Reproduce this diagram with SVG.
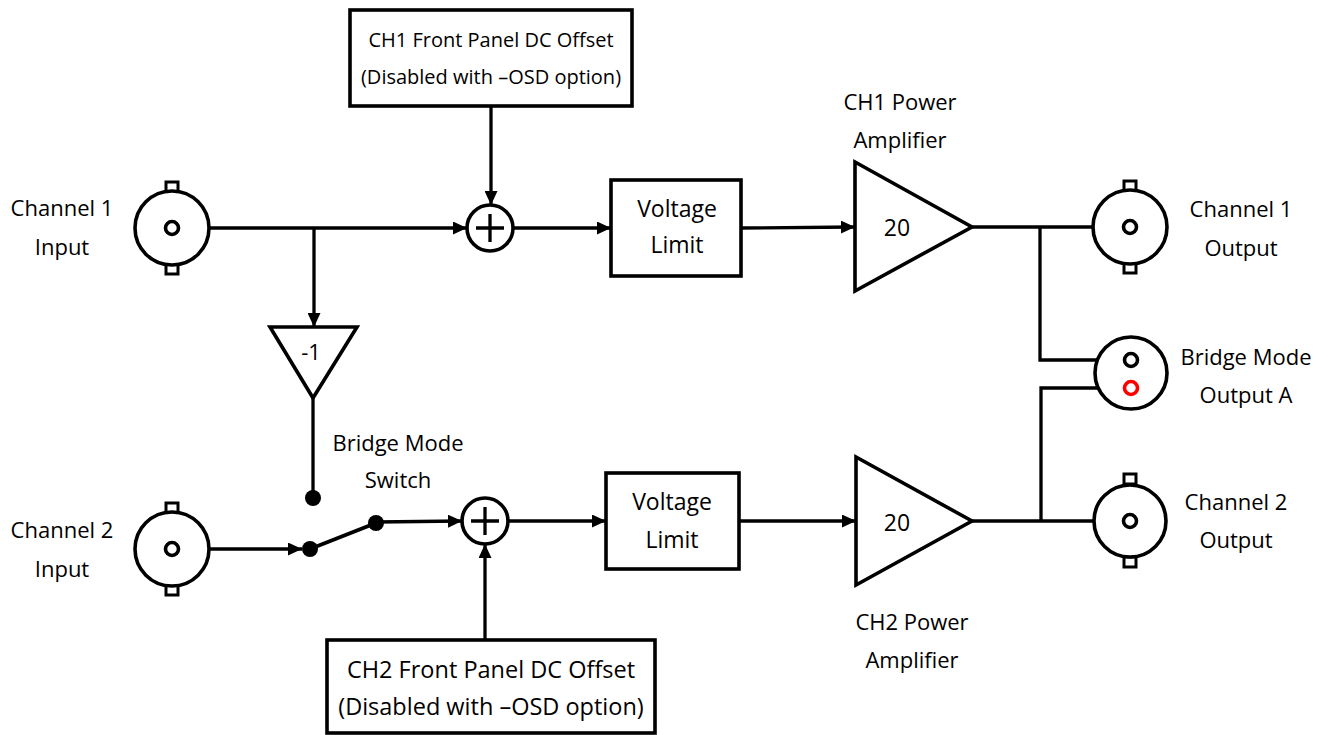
<svg xmlns="http://www.w3.org/2000/svg" width="1335" height="735" viewBox="0 0 1335 735">
<defs>
<marker id="arr" viewBox="0 0 14 13" refX="14" refY="6.5" markerWidth="14" markerHeight="13" markerUnits="userSpaceOnUse" orient="auto">
<path d="M0,0 L14,6.5 L0,13 Z" fill="#000"/>
</marker>
<style>
.ln{fill:none;stroke:#000;stroke-width:3.3}
.ar{fill:none;stroke:#000;stroke-width:3.3;marker-end:url(#arr)}
.sh{fill:#fff;stroke:#000;stroke-width:3.6;stroke-linejoin:miter}
.tab{fill:#fff;stroke:#000;stroke-width:3}
.dot{fill:#000}
.t{font-family:"Open Sans","Liberation Sans",sans-serif;font-size:22px;fill:#000;text-anchor:middle}
.t23{font-size:23px}
</style>
</defs>
<rect width="1335" height="735" fill="#fff"/>

<g id="connectors">
<line class="ar" x1="179" y1="228" x2="467" y2="228"/>
<line class="ar" x1="314" y1="228" x2="314" y2="327"/>
<line class="ln" x1="313" y1="398" x2="313" y2="498"/>
<line class="ar" x1="491" y1="106" x2="491" y2="205"/>
<line class="ar" x1="513" y1="228" x2="611" y2="228"/>
<line class="ar" x1="741" y1="228" x2="855" y2="227"/>
<line class="ln" x1="972" y1="227" x2="1124" y2="227"/>
<polyline class="ln" points="1040,227 1040,360 1125,360"/>
<line class="ar" x1="179" y1="549" x2="302" y2="549"/>
<line class="ln" x1="310" y1="549" x2="376" y2="523" style="stroke-width:4"/>
<line class="ar" x1="376" y1="522" x2="462" y2="521"/>
<line class="ar" x1="485" y1="640" x2="485" y2="544"/>
<line class="ar" x1="508" y1="521" x2="606" y2="521"/>
<line class="ar" x1="739" y1="521" x2="856" y2="521"/>
<line class="ln" x1="972" y1="521" x2="1124" y2="521"/>
<polyline class="ln" points="1041,521 1041,388 1125,388"/>
</g>

<g id="ch1-input">
<rect class="tab" x="166" y="182" width="12" height="10"/>
<rect class="tab" x="166" y="264" width="12" height="10"/>
<circle class="sh" cx="172" cy="228" r="37"/>
<circle class="sh" cx="172" cy="228" r="6.5"/>
<text class="t" x="62" y="216">Channel 1</text>
<text class="t" x="62" y="255">Input</text>
</g>

<g id="ch2-input">
<rect class="tab" x="166" y="503" width="12" height="10"/>
<rect class="tab" x="166" y="585" width="12" height="10"/>
<circle class="sh" cx="172" cy="549" r="37"/>
<circle class="sh" cx="172" cy="549" r="6.5"/>
<text class="t" x="62" y="538">Channel 2</text>
<text class="t" x="62" y="577">Input</text>
</g>

<g id="ch1-offset">
<rect class="sh" x="350" y="10" width="282" height="96"/>
<text class="t" x="491" y="47" style="font-size:20px">CH1 Front Panel DC Offset</text>
<text class="t" x="491" y="84" style="font-size:20px">(Disabled with –OSD option)</text>
</g>

<g id="ch2-offset">
<rect class="sh" x="327" y="640" width="328" height="93"/>
<text class="t" x="491" y="678" style="font-size:23.5px">CH2 Front Panel DC Offset</text>
<text class="t" x="491" y="715" style="font-size:23.5px">(Disabled with –OSD option)</text>
</g>

<g id="sum1">
<circle class="sh" cx="490" cy="228" r="23"/>
<path class="ln" d="M476,228 H504 M490,214 V242"/>
</g>

<g id="sum2">
<circle class="sh" cx="485" cy="521" r="23"/>
<path class="ln" d="M471,521 H499 M485,507 V535"/>
</g>

<g id="inverter">
<polygon class="sh" points="270,327 357,327 313,398"/>
<text class="t" x="311" y="360">-1</text>
</g>

<g id="bridge-switch">
<circle class="dot" cx="313" cy="498" r="8"/>
<circle class="dot" cx="310" cy="549" r="8"/>
<circle class="dot" cx="376" cy="523" r="8"/>
<text class="t" x="398" y="451">Bridge Mode</text>
<text class="t" x="398" y="488">Switch</text>
</g>

<g id="vlimit1">
<rect class="sh" x="611" y="180" width="130" height="96"/>
<text class="t t23" x="677" y="217">Voltage</text>
<text class="t t23" x="677" y="253">Limit</text>
</g>

<g id="vlimit2">
<rect class="sh" x="606" y="473" width="133" height="96"/>
<text class="t t23" x="672" y="510">Voltage</text>
<text class="t t23" x="672" y="548">Limit</text>
</g>

<g id="amp1">
<polygon class="sh" points="855,162 855,291 972,227"/>
<text class="t t23" x="897" y="236">20</text>
<text class="t" x="900" y="110">CH1 Power</text>
<text class="t" x="900" y="148">Amplifier</text>
</g>

<g id="amp2">
<polygon class="sh" points="856,457 856,585 972,521"/>
<text class="t t23" x="897" y="531">20</text>
<text class="t" x="912" y="630">CH2 Power</text>
<text class="t" x="912" y="668">Amplifier</text>
</g>

<g id="ch1-output">
<rect class="tab" x="1124" y="181" width="12" height="10"/>
<rect class="tab" x="1124" y="263" width="12" height="10"/>
<circle class="sh" cx="1130" cy="227" r="37"/>
<circle class="sh" cx="1130" cy="227" r="6.5"/>
<text class="t" x="1241" y="217">Channel 1</text>
<text class="t" x="1241" y="256">Output</text>
</g>

<g id="bridge-output">
<circle class="sh" cx="1131" cy="373" r="36"/>
<circle class="sh" cx="1131" cy="360" r="6.5"/>
<circle cx="1131" cy="388" r="6.5" fill="#fff" stroke="#ff0000" stroke-width="3.6"/>
<text class="t" x="1246" y="365">Bridge Mode</text>
<text class="t" x="1246" y="403">Output A</text>
</g>

<g id="ch2-output">
<rect class="tab" x="1124" y="474" width="12" height="10"/>
<rect class="tab" x="1124" y="557" width="12" height="10"/>
<circle class="sh" cx="1130" cy="521" r="36"/>
<circle class="sh" cx="1130" cy="521" r="6.5"/>
<text class="t" x="1236" y="510">Channel 2</text>
<text class="t" x="1236" y="548">Output</text>
</g>
</svg>
